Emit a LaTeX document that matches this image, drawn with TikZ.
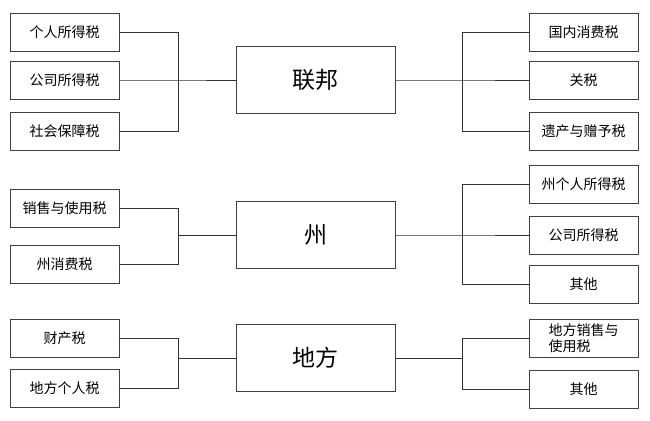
\documentclass[tikz,border=0pt]{standalone}
\usepackage{fontspec}
\setmainfont{Noto Sans CJK SC}
\begin{document}
\begin{tikzpicture}[x=1pt,y=-1pt,
  taxbox/.style={draw=black!75,line width=0.8pt,minimum width=109pt,minimum height=38pt,inner sep=1pt,font=\fontsize{14}{16}\selectfont},
  levelbox/.style={draw=black!75,line width=0.8pt,minimum width=159pt,minimum height=67pt,font=\fontsize{23}{25}\selectfont},
  link/.style={draw=black!80,line width=0.8pt}]
\useasboundingbox (0,0) rectangle (650,420);
% federal level
\node [levelbox] (fed) at (315.5,80) {联邦};
\node [taxbox] (fedL1) at (64.5,32) {个人所得税};
\node [taxbox] (fedL2) at (64.5,80) {公司所得税};
\node [taxbox] (fedL3) at (64.5,131) {社会保障税};
\node [taxbox] (fedR1) at (583.5,32) {国内消费税};
\node [taxbox] (fedR2) at (583.5,80) {关税};
\node [taxbox] (fedR3) at (583.5,131) {遗产与赠予税};
\coordinate (fedjl) at (178,80);
\coordinate (fedjr) at (462,80);
\draw[link] (fedL1.east) -| (fedjl);
\draw[link] (fedL3.east) -| (fedjl);
\draw[link] (fedL2.east) -- (fedjl) -- (fed.west);
\draw[link] (fed.east) -- (fedjr) -- (fedR2.west);
\draw[link] (fedjr) |- (fedR1.west);
\draw[link] (fedjr) |- (fedR3.west);
% state level
\node [levelbox] (st) at (315.5,235) {州};
\node [taxbox] (stL1) at (64.5,208) {销售与使用税};
\node [taxbox] (stL2) at (64.5,264.5) {州消费税};
\node [taxbox] (stR1) at (583.5,184) {州个人所得税};
\node [taxbox] (stR2) at (583.5,235) {公司所得税};
\node [taxbox] (stR3) at (583.5,284.5) {其他};
\coordinate (stjl) at (178,235);
\coordinate (stjr) at (462,235);
\draw[link] (stL1.east) -| (stjl);
\draw[link] (stL2.east) -| (stjl);
\draw[link] (stjl) -- (st.west);
\draw[link] (st.east) -- (stjr) -- (stR2.west);
\draw[link] (stjr) |- (stR1.west);
\draw[link] (stjr) |- (stR3.west);
% local level
\node [levelbox] (loc) at (315.5,358) {地方};
\node [taxbox] (locL1) at (64.5,338) {财产税};
\node [taxbox] (locL2) at (64.5,388) {地方个人税};
\node [taxbox,align=left] (locR1) at (583.5,338) {地方销售与\\使用税};
\node [taxbox] (locR2) at (583.5,389.5) {其他};
\coordinate (locjl) at (178,358);
\coordinate (locjr) at (462,358);
\draw[link] (locL1.east) -| (locjl);
\draw[link] (locL2.east) -| (locjl);
\draw[link] (locjl) -- (loc.west);
\draw[link] (loc.east) -- (locjr);
\draw[link] (locjr) |- (locR1.west);
\draw[link] (locjr) |- (locR2.west);
\end{tikzpicture}
\end{document}
